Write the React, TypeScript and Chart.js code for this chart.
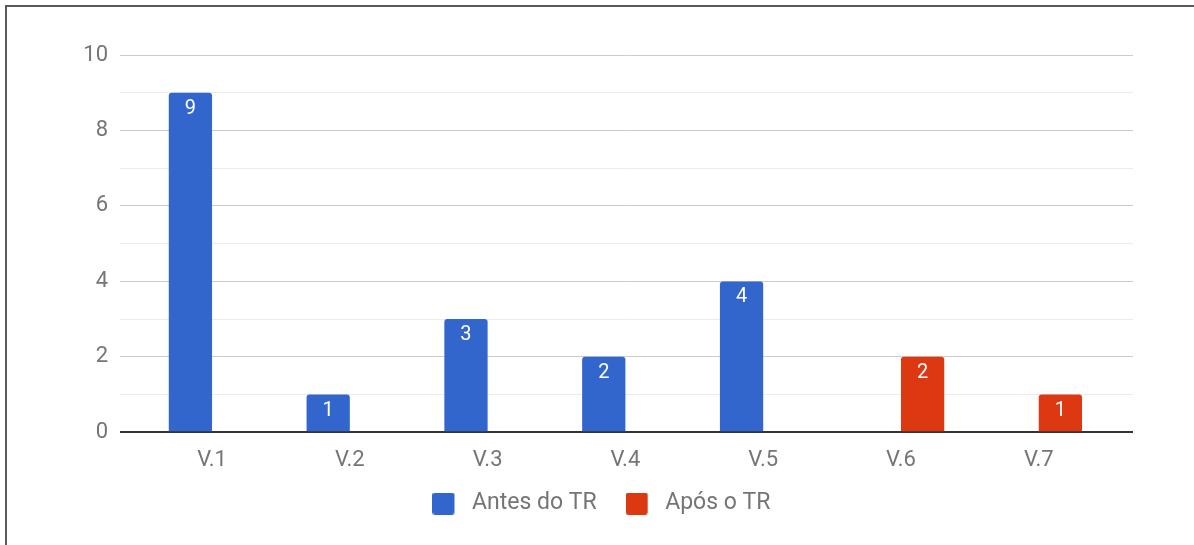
import React, { useEffect, useRef } from "react";
import { Chart, registerables } from "chart.js";

Chart.register(...registerables);

const categories = ["V.1", "V.2", "V.3", "V.4", "V.5", "V.6", "V.7"];
const antesDoTR = [9, 1, 3, 2, 4, null, null];
const aposOTR = [null, null, null, null, null, 2, 1];
const seriesNames = ["Antes do TR", "Após o TR"];
const seriesColors = ["#3366CC", "#DC3912"];
const yMin = 0;
const yMax = 10;

const FONT = "Roboto, 'Noto Sans', sans-serif";
const TEXT = "#757575";

function makeIcon(color: string): HTMLCanvasElement {
  const c = document.createElement("canvas");
  c.width = 28;
  c.height = 22;
  const g = c.getContext("2d")!;
  g.fillStyle = color;
  g.beginPath();
  (g as any).roundRect ? (g as any).roundRect(0, 0, 22, 22, 2.5) : g.rect(0, 0, 22, 22);
  g.fill();
  return c;
}

const valueLabels = {
  id: "valueLabels",
  afterDatasetsDraw(chart: any) {
    const ctx = chart.ctx;
    ctx.save();
    ctx.fillStyle = "#ffffff";
    ctx.font = `20px ${FONT}`;
    ctx.textAlign = "center";
    ctx.textBaseline = "middle";
    chart.data.datasets.forEach((ds: any, di: number) => {
      const meta = chart.getDatasetMeta(di);
      meta.data.forEach((el: any, i: number) => {
        const raw = ds.data[i];
        if (!raw || raw.y == null) return;
        ctx.fillText(String(raw.y), el.x, el.y + 16);
      });
    });
    ctx.restore();
  },
};

export default function App() {
  const ref = useRef<HTMLCanvasElement>(null);

  useEffect(() => {
    const icons = seriesColors.map(makeIcon);
    const toPoints = (arr: (number | null)[]) =>
      arr
        .map((v, i) => (v == null ? null : { x: i, y: v }))
        .filter((p) => p !== null);

    const chart = new Chart(ref.current!, {
      type: "bar",
      data: {
        datasets: [
          {
            label: seriesNames[0],
            data: toPoints(antesDoTR) as any,
            backgroundColor: seriesColors[0],
            borderRadius: { topLeft: 3, topRight: 3, bottomLeft: 0, bottomRight: 0 },
            borderSkipped: false,
            categoryPercentage: 0.628,
            barPercentage: 1,
          },
          {
            label: seriesNames[1],
            data: toPoints(aposOTR) as any,
            backgroundColor: seriesColors[1],
            borderRadius: { topLeft: 3, topRight: 3, bottomLeft: 0, bottomRight: 0 },
            borderSkipped: false,
            categoryPercentage: 0.628,
            barPercentage: 1,
          },
        ],
      },
      options: {
        responsive: false,
        animation: false,
        layout: { padding: { left: 70, right: 61, top: 55, bottom: 20 } },
        scales: {
          x: {
            type: "linear",
            min: -0.668,
            max: 6.684,
            offset: false,
            grid: { display: false, drawTicks: false },
            border: { display: false },
            afterFit: (s: any) => {
              s.height = 30.7;
            },
            ticks: {
              stepSize: 1,
              includeBounds: false,
              autoSkip: false,
              maxRotation: 0,
              mirror: true,
              padding: -41,
              color: TEXT,
              font: { family: FONT, size: 22 },
              callback: (v: any) => (Number.isInteger(v) && categories[v] ? categories[v] : ""),
            },
          },
          y: {
            min: yMin,
            max: yMax,
            grid: {
              drawTicks: false,
              color: (c: any) =>
                c.tick.value === 0 ? "#333333" : c.tick.value % 2 === 0 ? "#cccccc" : "#ebebeb",
              lineWidth: (c: any) => (c.tick.value === 0 ? 2 : 1),
            },
            border: { display: false },
            afterFit: (s: any) => {
              s.width = 50;
            },
            ticks: {
              stepSize: 1,
              padding: 12,
              color: TEXT,
              font: { family: FONT, size: 22 },
              callback: (v: any) => (v % 2 === 0 ? String(v) : ""),
            },
          },
        },
        plugins: {
          tooltip: { enabled: false },
          legend: {
            position: "bottom",
            labels: {
              usePointStyle: true,
              pointStyleWidth: 28,
              padding: 29,
              color: TEXT,
              font: { family: FONT, size: 23 },
              generateLabels: (ch: any) =>
                ch.data.datasets.map((ds: any, i: number) => ({
                  text: ds.label,
                  fillStyle: ds.backgroundColor,
                  strokeStyle: ds.backgroundColor,
                  lineWidth: 0,
                  pointStyle: icons[i],
                  hidden: false,
                  datasetIndex: i,
                  fontColor: TEXT,
                })),
            },
          },
        },
      } as any,
      plugins: [valueLabels],
    });
    return () => chart.destroy();
  }, []);

  return (
    <div
      style={{
        position: "fixed",
        left: 0,
        top: 0,
        width: 1194,
        height: 545,
        background: "#ffffff",
        overflow: "hidden",
      }}
    >
      <canvas ref={ref} width={1194} height={545} style={{ position: "absolute", left: 0, top: 0 }} />
      <div
        style={{
          position: "absolute",
          left: 5,
          top: 5,
          width: 1300,
          height: 600,
          borderTop: "2px solid #5a5a5a",
          borderLeft: "2px solid #5a5a5a",
          pointerEvents: "none",
        }}
      />
    </div>
  );
}
